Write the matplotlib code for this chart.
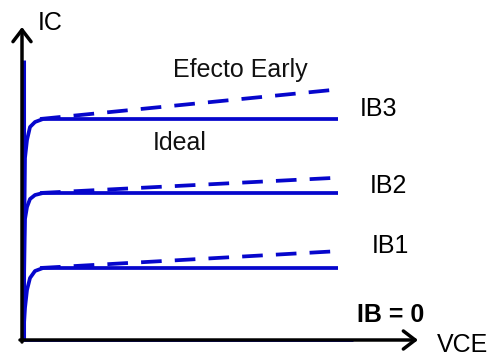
import matplotlib.pyplot as plt

# curvas de saída do transistor (unidades arbitrárias, origem no cruzamento dos eixos)
vce = [1, 3, 5, 8, 13, 21, 316]
ic_ib3 = [0, 182, 200, 213, 218, 221, 221]
ic_ib2 = [0, 121, 133, 141, 145, 147, 147]
ic_ib1 = [0, 32, 50, 62, 69, 72, 72]

# efeito Early (retas tracejadas)
early_x = [18, 310]
early_ib3 = [221, 250]
early_ib2 = [147, 162]
early_ib1 = [72, 89]
early_x_ib1 = [18, 318]

# IB = 0 e trecho vertical
ib0_x = [0, 331]
ib0_y = [0, 0]
vert_x = [2, 2]
vert_y = [0, 280]

labels = ['IB3', 'IB2', 'IB1']
label_pos = [(338, 224), (348, 147), (350, 87)]

blue = '#0606cc'
lw = 2.7

plt.rcParams['font.family'] = ['Liberation Sans', 'DejaVu Sans']

fig = plt.figure(figsize=(4.91, 3.58), dpi=100)
ax = fig.add_axes([0, 0, 1, 1])
ax.set_xlim(-22, 469)
ax.set_ylim(-18, 340)
ax.axis('off')

# eixos com setas
ax.annotate('', xy=(0, 313), xytext=(0, -2),
            arrowprops=dict(arrowstyle='->,head_length=0.85,head_width=0.65',
                            lw=2.5, color='black', shrinkA=0, shrinkB=0))
ax.annotate('', xy=(396, 0), xytext=(-2, 0),
            arrowprops=dict(arrowstyle='->,head_length=0.85,head_width=0.65',
                            lw=2.5, color='black', shrinkA=0, shrinkB=0))

ax.plot(vert_x, vert_y, color=blue, lw=2.2, solid_capstyle='butt')
ax.plot(ib0_x, ib0_y, color=blue, lw=2.0, solid_capstyle='butt')

for ic in [ic_ib3, ic_ib2, ic_ib1]:
    ax.plot(vce, ic, color=blue, lw=lw, solid_capstyle='butt')

dash = (0, (5.5, 3.5))
ax.plot(early_x, early_ib3, color=blue, lw=lw, linestyle=dash)
ax.plot(early_x, early_ib2, color=blue, lw=lw, linestyle=dash)
ax.plot(early_x_ib1, early_ib1, color=blue, lw=lw, linestyle=dash)

# textos
ax.text(16, 310, 'IC', fontsize=18, va='baseline', color='black')
ax.text(151, 263, 'Efecto Early', fontsize=18, va='baseline', color='#111111')
ax.text(131, 190, 'Ideal', fontsize=18, va='baseline', color='#111111')
for lab, (x, y) in zip(labels, label_pos):
    ax.text(x, y, lab, fontsize=18, va='baseline', color='black')
ax.text(335, 18, 'IB = 0', fontsize=18, fontweight='bold', va='baseline', color='black')
ax.text(415, -12, 'VCE', fontsize=18, va='baseline', color='black')

fig.savefig('out.png', dpi=100)
plt.close(fig)
